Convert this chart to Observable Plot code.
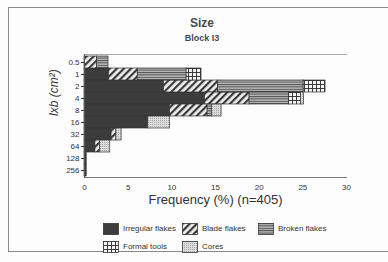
<!DOCTYPE html>
<html><head><meta charset="utf-8">
<script src="https://cdn.jsdelivr.net/npm/d3@7"></script>
<script src="https://cdn.jsdelivr.net/npm/@observablehq/plot@0.6"></script>
<style>
body{margin:0;background:#fff;font-family:"Liberation Sans",Arial,sans-serif;}
#wrap{position:relative;width:388px;height:262px;overflow:hidden;background:#fdfdfd;}
#box{position:absolute;left:8px;top:7px;width:420px;height:245px;border:1px solid #8a8a8a;box-sizing:border-box;}
.t{position:absolute;left:0;width:404px;text-align:center;font-weight:bold;color:#4a4a4a;}
#chart{position:absolute;left:0;top:0;}
.leg{position:absolute;font-size:8px;line-height:12px;height:12px;color:#333;display:flex;align-items:center;}
.leg svg{margin-right:4px;display:block;}
</style></head>
<body>
<div id="wrap">
<div id="box"></div>
<div class="t" style="top:16px;font-size:12px;">Size</div>
<div class="t" style="top:33px;font-size:9px;">Block I3</div>
<div id="chart"></div>
<div id="legend"></div>
</div>
<svg width="0" height="0" style="position:absolute">
<defs>
<pattern id="p-irr" width="4" height="4" patternUnits="userSpaceOnUse"><rect width="4" height="4" fill="#3c3c3c"/></pattern>
<pattern id="p-blade" width="5" height="5" patternUnits="userSpaceOnUse" patternTransform="rotate(45)"><rect width="5" height="5" fill="#eeeeee"/><rect width="2.2" height="5" fill="#3a3a3a"/></pattern>
<pattern id="p-broken" width="4" height="2.4" patternUnits="userSpaceOnUse"><rect width="4" height="2.4" fill="#b8b8b8"/><rect width="4" height="1" fill="#505050"/></pattern>
<pattern id="p-formal" width="4" height="4" patternUnits="userSpaceOnUse"><rect width="4" height="4" fill="#f4f4f4"/><rect width="4" height="1" fill="#3a3a3a"/><rect width="1" height="4" fill="#3a3a3a"/></pattern>
<pattern id="p-cores" width="2" height="2" patternUnits="userSpaceOnUse"><rect width="2" height="2" fill="#dcdcdc"/><rect width="1" height="1" fill="#a8a8a8"/></pattern>
</defs>
</svg>
<script>
const categories = ["0.5","1","2","4","8","16","32","64","128","256"];
const seriesNames = ["Irregular flakes","Blade flakes","Broken flakes","Formal tools","Cores"];
const irregular = [0, 2.8, 9.1, 13.8, 9.8, 7.3, 3.1, 1.25, 0.25, 0.25];
const blade     = [1.45, 3.3, 6.2, 5.1, 4.3, 0, 0.55, 0.55, 0, 0];
const broken    = [1.3, 5.6, 9.8, 4.5, 0.5, 0, 0, 0, 0, 0];
const formal    = [0, 1.7, 2.5, 1.4, 0, 0, 0, 0, 0, 0];
const cores     = [0, 0, 0, 0.35, 1.1, 2.5, 0.6, 1.15, 0, 0];
const xTicks = [0,5,10,15,20,25,30];
const patternIds = ["url(#p-irr)","url(#p-blade)","url(#p-broken)","url(#p-formal)","url(#p-cores)"];

const seriesValues = [irregular, blade, broken, formal, cores];
const rows = [];
seriesNames.forEach((s,si)=>categories.forEach((c,ci)=>{
  if (seriesValues[si][ci] > 0) rows.push({size:c, series:s, value:seriesValues[si][ci]});
}));

const chart = Plot.plot({
  width: 388, height: 200,
  marginLeft: 84, marginRight: 42, marginTop: 54, marginBottom: 23,
  style: {fontFamily: '"Liberation Sans",Arial,sans-serif', fontSize: "8px", color: "#333", background: "transparent"},
  x: {domain:[0,30], ticks: xTicks, tickSize: 0, tickPadding: 7, label: null},
  y: {domain: categories, padding: 0, tickSize: 3, tickPadding: 2, label: null},
  color: {domain: seriesNames, range: patternIds},
  marks: [
    Plot.barX(rows, Plot.stackX({x: "value", y: "size", fill: "series", order: seriesNames, stroke: "#333", strokeWidth: 0.7})),
    Plot.frame({anchor: "top", stroke: "#aaa"}),
    Plot.frame({anchor: "bottom", stroke: "#777"}),
    Plot.frame({anchor: "left", stroke: "#555"}),
    Plot.text(["Frequency (%) (n=405)"], {frameAnchor: "bottom", dy: 26, fontSize: 13, fill: "#333"}),
    Plot.text(["lxb (cm²)"], {frameAnchor: "left", dx: -30, rotate: -90, fontSize: 12, fontStyle: "italic", fill: "#333"})
  ]
});
chart.style.overflow = "visible";
document.getElementById("chart").appendChild(chart);

const legendPos = [[103,223],[182,223],[258,223],[103,241],[182,241]];
const leg = document.getElementById("legend");
seriesNames.forEach((s,i)=>{
  const d = document.createElement("div");
  d.className = "leg";
  d.style.left = legendPos[i][0] + "px";
  d.style.top = legendPos[i][1] + "px";
  d.innerHTML = `<svg width="16" height="12"><rect x="0.5" y="0.5" width="15" height="11" fill="${patternIds[i]}" stroke="#333" stroke-width="0.8"/></svg><span>${s}</span>`;
  leg.appendChild(d);
});
</script>
</body></html>
